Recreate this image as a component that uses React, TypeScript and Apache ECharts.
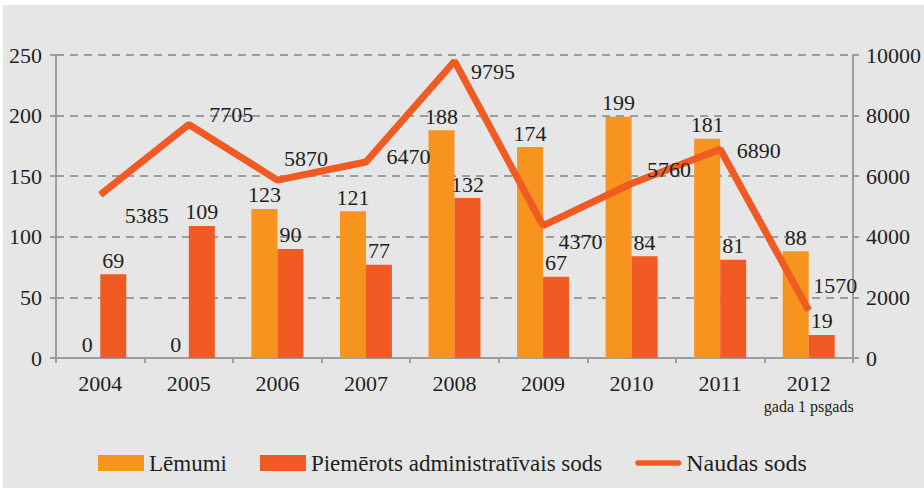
import React, { useEffect, useRef } from "react";
import * as echarts from "echarts";

const years = ["2004", "2005", "2006", "2007", "2008", "2009", "2010", "2011", "2012"];
const lemumi = [0, 0, 123, 121, 188, 174, 199, 181, 88];
const piemerots = [69, 109, 90, 77, 132, 67, 84, 81, 19];
const naudasSods = [5385, 7705, 5870, 6470, 9795, 4370, 5760, 6890, 1570];
const leftTicks = [0, 50, 100, 150, 200, 250];
const rightTicks = [0, 2000, 4000, 6000, 8000, 10000];
const lastYearNote = "gada 1 psgads";

// label offsets for the line labels (style only)
const lineLabelOffsets: [number, number][] = [
  [24, 21], [20, -10], [6, -22], [20, -5], [16, 10], [15, 16], [15, -14], [16, 1], [4, -25],
];

const FONT = "'Liberation Serif', 'DejaVu Serif', serif";
const ORANGE = "#f7941d";
const RED = "#f15a22";
const GRID = "#9d9d9d";
const TEXT = "#231f20";

export default function App() {
  const ref = useRef<HTMLDivElement>(null);
  useEffect(() => {
    if (!ref.current) return;
    const chart = echarts.init(ref.current, null, { renderer: "svg" });
    const barLabel = {
      show: true,
      position: "top",
      distance: 3,
      fontFamily: FONT,
      fontSize: 22,
      color: TEXT,
    };
    const option: any = {
      animation: false,
      backgroundColor: "#ffffff",
      textStyle: { fontFamily: FONT, color: TEXT },
      graphic: [
        {
          type: "rect",
          silent: true,
          z: -100,
          shape: { x: 3, y: 5, width: 921, height: 483 },
          style: { fill: "#e6e6e6" },
        },
      ],
      grid: { left: 56, right: 69, top: 55, bottom: 130, containLabel: false },
      legend: {
        left: 93,
        top: 446,
        itemWidth: 46,
        itemHeight: 16,
        itemGap: 33,
        textStyle: { fontFamily: FONT, fontSize: 23, color: TEXT },
        data: [
          { name: "Lēmumi", icon: "rect", textStyle: { width: 93 } },
          { name: "Piemērots administratīvais sods", icon: "rect" },
          {
            name: "Naudas sods",
            icon: "path://M3,0 L47,0 A3,3 0 0 1 47,6 L3,6 A3,3 0 0 1 3,0 Z",
            textStyle: { fontSize: 24 },
          },
        ],
      },
      xAxis: {
        type: "category",
        data: years,
        axisLine: { lineStyle: { color: GRID, width: 2 } },
        axisTick: { show: true, length: 5, lineStyle: { color: GRID, width: 2 } },
        axisLabel: {
          interval: 0,
          margin: 12,
          fontFamily: FONT,
          fontSize: 22,
          color: TEXT,
          formatter: (v: string) =>
            v === years[years.length - 1] ? `{a|${v}}\n{b|${lastYearNote}}` : `{a|${v}}`,
          rich: {
            a: { fontFamily: FONT, fontSize: 22, color: TEXT, lineHeight: 26 },
            b: { fontFamily: FONT, fontSize: 16, color: TEXT, lineHeight: 20 },
          },
        },
      },
      yAxis: [
        {
          type: "value",
          min: leftTicks[0],
          max: leftTicks[leftTicks.length - 1],
          interval: 50,
          axisLine: { show: true, lineStyle: { color: GRID, width: 2 } },
          axisTick: { show: true, length: 6, lineStyle: { color: GRID, width: 2 } },
          axisLabel: { margin: 14, fontFamily: FONT, fontSize: 22, color: TEXT },
          splitLine: { show: true, lineStyle: { color: GRID, width: 2, type: [8, 6] } },
        },
        {
          type: "value",
          min: rightTicks[0],
          max: rightTicks[rightTicks.length - 1],
          interval: 2000,
          position: "right",
          axisLine: { show: true, lineStyle: { color: GRID, width: 2 } },
          axisTick: { show: true, length: 6, lineStyle: { color: GRID, width: 2 } },
          axisLabel: {
            margin: 13,
            fontFamily: FONT,
            fontSize: 22,
            color: TEXT,
            formatter: (v: number) => String(v),
          },
          splitLine: { show: false },
        },
      ],
      series: [
        {
          name: "Lēmumi",
          type: "bar",
          data: lemumi,
          barWidth: 26,
          barGap: "0%",
          itemStyle: { color: ORANGE },
          label: barLabel,
        },
        {
          name: "Piemērots administratīvais sods",
          type: "bar",
          data: piemerots,
          barWidth: 26,
          barGap: "0%",
          itemStyle: { color: RED },
          label: barLabel,
        },
        {
          name: "Naudas sods",
          type: "line",
          yAxisIndex: 1,
          z: 5,
          symbol: "circle",
          symbolSize: 1,
          showSymbol: true,
          itemStyle: { color: RED },
          lineStyle: { color: RED, width: 7 },
          data: naudasSods.map((v, i) => ({
            value: v,
            label: {
              show: true,
              position: "right",
              distance: 0,
              offset: lineLabelOffsets[i],
              fontFamily: FONT,
              fontSize: 22,
              color: TEXT,
            },
          })),
        },
      ],
    };
    chart.setOption(option);
    return () => chart.dispose();
  }, []);
  return (
    <div style={{ position: "absolute", left: 0, top: 0, width: 924, height: 488 }}>
      <div ref={ref} style={{ width: 924, height: 488 }} />
    </div>
  );
}
